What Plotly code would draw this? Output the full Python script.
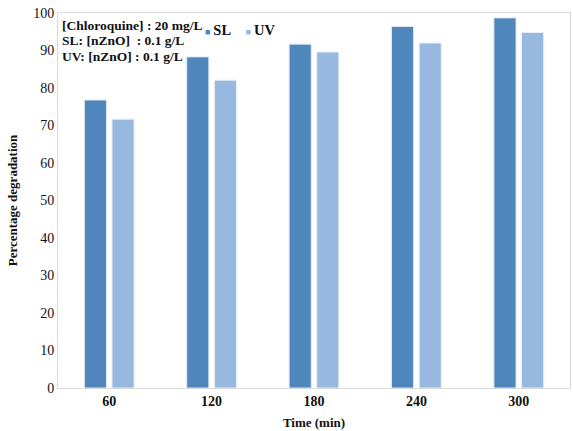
import plotly.graph_objects as go

# Photocatalytic degradation of chloroquine over nZnO
time_min = ["60", "120", "180", "240", "300"]
sl_degradation = [76.8, 88.3, 91.7, 96.4, 98.7]
uv_degradation = [71.7, 82.1, 89.6, 92.0, 94.8]
y_ticks = [0, 10, 20, 30, 40, 50, 60, 70, 80, 90, 100]
conditions = [
    "[Chloroquine] : 20 mg/L",
    "SL: [nZnO]  : 0.1 g/L",
    "UV: [nZnO] : 0.1 g/L",
]

SL_COLOR = "#4f86bb"
UV_COLOR = "#97b9df"
FONT = "Liberation Serif"

fig = go.Figure()
fig.add_trace(go.Bar(
    x=time_min, y=sl_degradation, name="SL",
    marker=dict(color=SL_COLOR, line=dict(color="#dfe8f3", width=1)),
))
fig.add_trace(go.Bar(
    x=time_min, y=uv_degradation, name="UV",
    marker=dict(color=UV_COLOR, line=dict(color="#e8eff8", width=1)),
))

fig.update_layout(
    width=573, height=431,
    margin=dict(l=58, r=3, t=13, b=43),
    paper_bgcolor="white", plot_bgcolor="white",
    barmode="group", bargap=0.46, bargroupgap=0.2,
    font=dict(family=FONT, color="#111111", size=14),
    showlegend=False,
    xaxis=dict(
        title=dict(text="<b>Time (min)</b>", font=dict(family=FONT, size=13), standoff=10),
        tickfont=dict(family=FONT, size=14),
        tickprefix="<b>", ticksuffix="</b>",
        showline=True, linecolor="#d9d9d9", linewidth=1, mirror=True,
        showgrid=False, ticks="",
    ),
    yaxis=dict(
        title=dict(text="<b>Percentage degradation</b>", font=dict(family=FONT, size=13), standoff=12),
        tickfont=dict(family=FONT, size=14),
        tickprefix="<b>", ticksuffix="</b>",
        range=[0, 100], tickvals=y_ticks,
        showline=True, linecolor="#d9d9d9", linewidth=1, mirror=True,
        showgrid=False, zeroline=False, ticks="",
    ),
)

# Experimental conditions, one line each
for i, line in enumerate(conditions):
    fig.add_annotation(
        xref="paper", yref="paper", x=0.003, y=0.968 - 0.0425 * i,
        xanchor="left", yanchor="middle", align="left", showarrow=False,
        text=f"<b>{line}</b>",
        font=dict(family=FONT, size=13.5, color="#111111"),
    )

# Series key
key_text = "&nbsp;&nbsp;&nbsp;&nbsp;".join(
    f"<span style='color:{c};font-size:9px'>■</span>&#8201;<b>{n}</b>"
    for n, c in [("SL", SL_COLOR), ("UV", UV_COLOR)]
)
fig.add_annotation(
    xref="paper", yref="paper", x=0.284, y=0.955, xanchor="left", yanchor="middle",
    showarrow=False, text=key_text,
    font=dict(family=FONT, size=14.5, color="#111111"),
)

fig.write_html("out.html")
